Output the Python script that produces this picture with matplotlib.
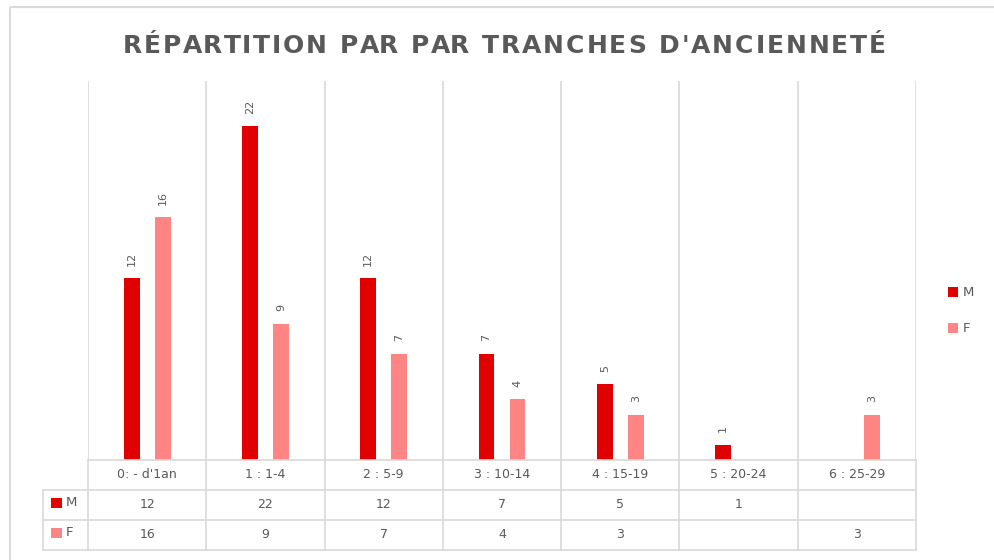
import matplotlib
matplotlib.use("Agg")
import matplotlib.pyplot as plt
import matplotlib.patches as patches

# --- données ---
categories = ["0: - d'1an", "1 : 1-4", "2 : 5-9", "3 : 10-14", "4 : 15-19", "5 : 20-24", "6 : 25-29"]
m_values = [12, 22, 12, 7, 5, 1, None]
f_values = [16, 9, 7, 4, 3, None, 3]
series_names = ["M", "F"]

TITLE = "RÉPARTITION PAR PAR TRANCHES D'ANCIENNETÉ"
RED_M = "#E00000"
PINK_F = "#FF8585"
GRID = "#D9D9D9"
TXT = "#595959"

W, H = 994, 560
fig = plt.figure(figsize=(W / 100, H / 100), dpi=100, facecolor="white")

# calque en pixels pour le cadre, le titre, la légende
ov = fig.add_axes([0, 0, 1, 1])
ov.set_xlim(0, W)
ov.set_ylim(H, 0)
ov.axis("off")
ov.add_patch(patches.Rectangle((10, 7), W + 20, H + 20, fill=False, edgecolor=GRID, linewidth=1.5))

# titre ajusté sur la largeur du modèle (léger espacement des lettres)
renderer = fig.canvas.get_renderer()
t_x0, t_x1, t_base, t_fs = 123, 886, 53, 18


def _w(s):
    if not s:
        return 0.0
    t = ov.text(0, 0, s, fontsize=t_fs, fontweight="bold")
    w = t.get_window_extent(renderer).width
    t.remove()
    return w


full_w = _w(TITLE)
spacing = (t_x1 - t_x0 - full_w) / (len(TITLE) - 1)
for k, ch in enumerate(TITLE):
    ov.text(t_x0 + _w(TITLE[:k]) + k * spacing, t_base, ch, ha="left", va="baseline",
            fontsize=t_fs, fontweight="bold", color=TXT)

# --- zone de tracé ---
x0, x1, ytop, ybase = 88, 916, 81, 460
ax = fig.add_axes([x0 / W, (H - ybase) / H, (x1 - x0) / W, (ybase - ytop) / H])
n = len(categories)
ax.set_xlim(-0.5, n - 0.5)
ax.set_ylim(0, 25)
ax.axis("off")
for b in range(n + 1):
    ax.axvline(b - 0.5, color=GRID, linewidth=1.2, zorder=0)

bw = 0.135
off = 0.131
for vals, col, sgn in ((m_values, RED_M, -1), (f_values, PINK_F, 1)):
    for i, v in enumerate(vals):
        if v is None:
            continue
        ax.bar(i + sgn * off, v, width=bw, color=col, zorder=2)
        ax.annotate(str(v), (i + sgn * off, v), xytext=(0, 9), textcoords="offset points",
                    rotation=90, ha="center", va="bottom", fontsize=8, color=TXT)

# --- tableau de données ---
tb = fig.add_axes([x0 / W, (H - 550) / H, (x1 - x0) / W, 90 / H])
tb.set_xlim(-0.5, n - 0.5)
tb.set_ylim(3, 0)
tb.axis("off")
xl = -0.5 - 45 / (x1 - x0) * n
lw = 1.2
tb.plot([-0.5, n - 0.5], [0, 0], color=GRID, lw=lw, clip_on=False)
for yy in (1, 2, 3):
    tb.plot([xl, n - 0.5], [yy, yy], color=GRID, lw=lw, clip_on=False)
tb.plot([xl, xl], [1, 3], color=GRID, lw=lw, clip_on=False)
for b in range(n + 1):
    tb.plot([b - 0.5, b - 0.5], [0, 3], color=GRID, lw=lw, clip_on=False)

for i, c in enumerate(categories):
    tb.text(i, 0.5, c, ha="center", va="center", fontsize=9, color=TXT)
for r, (vals, col, name) in enumerate(((m_values, RED_M, "M"), (f_values, PINK_F, "F")), start=1):
    for i, v in enumerate(vals):
        if v is not None:
            tb.text(i, r + 0.5, str(v), ha="center", va="center", fontsize=9, color=TXT)
    # clé de légende dans l'en-tête de ligne
    ov.add_patch(patches.Rectangle((51, 473 + 30 * r - 5), 11, 10, facecolor=col, linewidth=0))
    ov.text(66, 473 + 30 * r, name, ha="left", va="center", fontsize=9.5, color=TXT)

# --- légende à droite ---
for k, (name, col) in enumerate(zip(series_names, (RED_M, PINK_F))):
    y = 292 + 36 * k
    ov.add_patch(patches.Rectangle((948, y - 5), 10, 10, facecolor=col, linewidth=0))
    ov.text(963, y, name, ha="left", va="center", fontsize=9.5, color=TXT)

fig.savefig("out.png", dpi=100, facecolor="white")
